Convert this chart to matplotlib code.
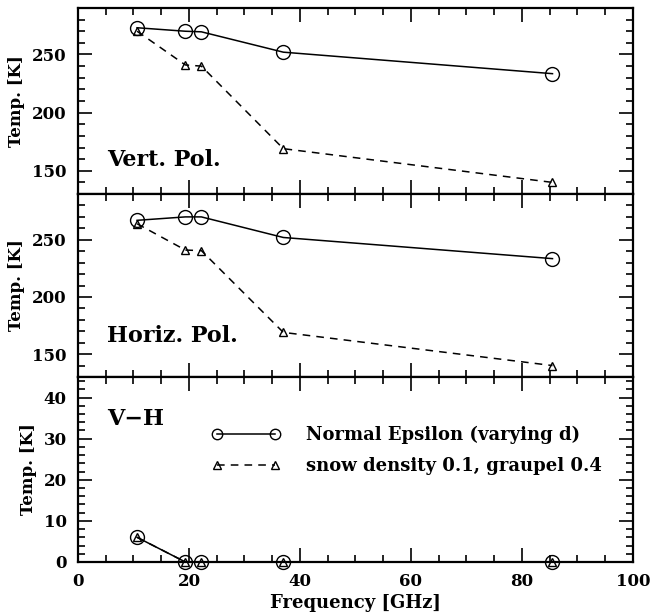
import numpy as np
import matplotlib.pyplot as plt
from matplotlib.ticker import MultipleLocator

# frecuencias de los canales [GHz]
freq = [10.65, 19.35, 22.235, 37.0, 85.5]

# polarizacion vertical
v_normal = [273, 270, 269.5, 252, 233.5]
v_snow = [270, 241, 240, 169, 140]

# polarizacion horizontal
h_normal = [267, 270, 270, 252, 233.5]
h_snow = [264, 241, 240.5, 169, 140]

# diferencia V-H
d_normal = [6, 0, 0, 0, 0]
d_snow = [6, 0, 0, 0, 0]

lab_normal = 'Normal Epsilon (varying d)'
lab_snow = 'snow density 0.1, graupel 0.4'

plt.rcParams['font.family'] = 'DejaVu Serif'
plt.rcParams['font.weight'] = 'bold'
plt.rcParams['axes.labelweight'] = 'bold'

fig = plt.figure(figsize=(6.52, 6.14), dpi=100)
L, W = 0.1196, 0.8512
ax1 = fig.add_axes([L, 0.684, W, 0.303])
ax2 = fig.add_axes([L, 0.386, W, 0.298])
ax3 = fig.add_axes([L, 0.0847, W, 0.3013])

circ = dict(color='k', lw=1.1, marker='o', ms=10, mfc='none', mew=1.0)
tri = dict(color='k', lw=1.1, ls=(0, (5, 4)), marker='^', ms=6, mfc='none', mew=1.0)

for ax, yn, ys in [(ax1, v_normal, v_snow), (ax2, h_normal, h_snow), (ax3, d_normal, d_snow)]:
    ax.plot(freq, yn, label=lab_normal, **circ)
    ax.plot(freq, ys, label=lab_snow, **tri)
    ax.set_xlim(0, 100)
    ax.xaxis.set_major_locator(MultipleLocator(20))
    ax.xaxis.set_minor_locator(MultipleLocator(5))
    ax.tick_params(which='both', direction='in', top=True, right=True, width=1.2, labelsize=12, pad=8)
    ax.tick_params(which='major', length=10)
    ax.tick_params(which='minor', length=5)
    for s in ax.spines.values():
        s.set_linewidth(1.6)
    ax.set_ylabel('Temp. [K]', fontsize=12, labelpad=5)
    for c in [ax.lines[0], ax.lines[1]]:
        c.set_clip_on(False)

for ax in (ax1, ax2):
    ax.set_ylim(130, 290)
    ax.yaxis.set_major_locator(MultipleLocator(50))
    ax.yaxis.set_minor_locator(MultipleLocator(10))
    ax.tick_params(labelbottom=False)

ax3.set_ylim(0, 45)
ax3.yaxis.set_major_locator(MultipleLocator(10))
ax3.yaxis.set_minor_locator(MultipleLocator(2))
ax3.set_xlabel('Frequency [GHz]', fontsize=13, labelpad=3)

ax1.text(0.052, 0.15, 'Vert. Pol.', transform=ax1.transAxes, fontsize=16)
ax2.text(0.052, 0.19, 'Horiz. Pol.', transform=ax2.transAxes, fontsize=16)
ax3.text(0.052, 0.74, 'V\u2212H', transform=ax3.transAxes, fontsize=16)

leg = ax3.legend(loc='upper left', bbox_to_anchor=(0.212, 0.825), frameon=False, fontsize=13,
                 numpoints=2, handlelength=3.8, handletextpad=1.4, labelspacing=0.72)
leg.legend_handles[0].set_markersize(7.5)
leg.legend_handles[1].set_markersize(5.5)

plt.savefig('out.png', dpi=100)
